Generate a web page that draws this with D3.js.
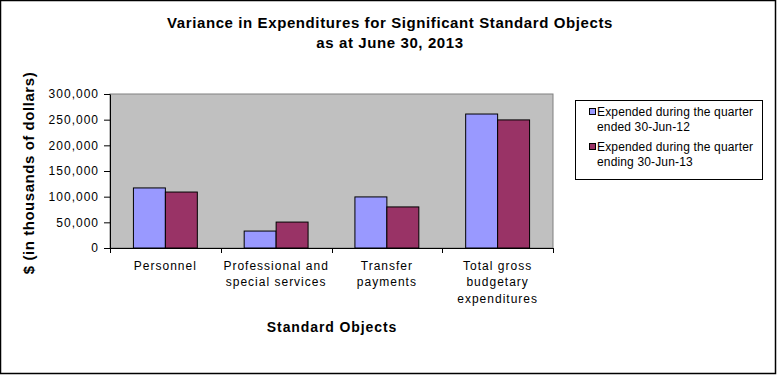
<!DOCTYPE html>
<html>
<head>
<meta charset="utf-8">
<script src="https://cdn.jsdelivr.net/npm/d3@7"></script>
<style>
  body { margin: 0; background: #fff; }
  text { font-family: Arial, "Liberation Sans", sans-serif; }
</style>
</head>
<body>
<div id="chart"></div>
<script>
// data (thousands of dollars)
var categories = ["Personnel", "Professional and special services", "Transfer payments", "Total gross budgetary expenditures"];
var categoryLines = [["Personnel"], ["Professional and", "special services"], ["Transfer", "payments"], ["Total gross", "budgetary", "expenditures"]];
var seriesNames = ["Expended during the quarter ended 30-Jun-12", "Expended during the quarter ending 30-Jun-13"];
var legendLines = [["Expended during the quarter", "ended 30-Jun-12"], ["Expended during the quarter", "ending 30-Jun-13"]];
var values2012 = [117000, 33000, 99500, 261000];
var values2013 = [109000, 50500, 80000, 249500];
var yTicks = [0, 50000, 100000, 150000, 200000, 250000, 300000];
var colors = ["#9999ff", "#993366"];

var W = 777, H = 375;
var plot = { left: 110, right: 553, top: 94, bottom: 248 };

var svg = d3.select("#chart").append("svg")
    .attr("width", W)
    .attr("height", H);

// outer frame
svg.append("rect")
    .attr("x", 0.5).attr("y", 0.5)
    .attr("width", W - 2).attr("height", H - 2)
    .attr("fill", "#fff")
    .attr("stroke", "#000")
    .attr("stroke-width", 1.5);

// title
svg.append("text")
    .attr("x", 390).attr("y", 28)
    .attr("text-anchor", "middle")
    .style("font-size", "15px").style("font-weight", "bold")
    .style("letter-spacing", "0.6px")
    .text("Variance in Expenditures for Significant Standard Objects");
svg.append("text")
    .attr("x", 390).attr("y", 48)
    .attr("text-anchor", "middle")
    .style("font-size", "15px").style("font-weight", "bold")
    .style("letter-spacing", "0.6px")
    .text("as at June 30, 2013");

var x0 = d3.scaleBand()
    .domain(categories)
    .range([plot.left, plot.right])
    .paddingInner(0.423)
    .paddingOuter(0.2115);
var x1 = d3.scaleBand()
    .domain([0, 1])
    .range([0, x0.bandwidth()]);
var y = d3.scaleLinear()
    .domain([0, 300000])
    .range([plot.bottom, plot.top]);

// plot background
svg.append("rect")
    .attr("x", plot.left).attr("y", plot.top)
    .attr("width", plot.right - plot.left)
    .attr("height", plot.bottom - plot.top)
    .attr("fill", "#c0c0c0")
    .attr("stroke", "#808080")
    .attr("stroke-width", 1);

// bars
var rows = categories.map(function (c, i) {
    return { cat: c, vals: [values2012[i], values2013[i]] };
});
var groups = svg.selectAll(".grp")
    .data(rows)
    .enter().append("g")
    .attr("class", "grp")
    .attr("transform", function (d) { return "translate(" + x0(d.cat) + ",0)"; });
groups.selectAll("rect")
    .data(function (d) { return d.vals.map(function (v, k) { return { k: k, v: v }; }); })
    .enter().append("rect")
    .attr("x", function (d) { return x1(d.k); })
    .attr("y", function (d) { return y(d.v); })
    .attr("width", x1.bandwidth())
    .attr("height", function (d) { return plot.bottom - y(d.v); })
    .attr("fill", function (d) { return colors[d.k]; })
    .attr("stroke", "#000")
    .attr("stroke-width", 1);

// y axis
var yAxis = svg.append("g")
    .attr("transform", "translate(" + plot.left + ",0)")
    .call(d3.axisLeft(y).tickValues(yTicks).tickSize(6).tickPadding(5).tickSizeOuter(0)
        .tickFormat(d3.format(",")));
yAxis.select(".domain").attr("stroke", "#000");
yAxis.selectAll("text")
    .style("font-size", "12px")
    .style("letter-spacing", "1px")
    .style("font-family", "Arial, 'Liberation Sans', sans-serif")
    .attr("fill", "#000");

// x axis line and ticks between categories
var xb = d3.scaleLinear().domain([0, categories.length]).range([plot.left, plot.right]);
svg.append("line")
    .attr("x1", plot.left).attr("x2", plot.right)
    .attr("y1", plot.bottom + 0.5).attr("y2", plot.bottom + 0.5)
    .attr("stroke", "#000");
svg.selectAll(".xtick")
    .data(d3.range(categories.length + 1))
    .enter().append("line")
    .attr("class", "xtick")
    .attr("x1", function (d) { return Math.round(xb(d)) + 0.5; })
    .attr("x2", function (d) { return Math.round(xb(d)) + 0.5; })
    .attr("y1", plot.bottom).attr("y2", plot.bottom + 5)
    .attr("stroke", "#000");

// category labels
categories.forEach(function (c, i) {
    var t = svg.append("text")
        .attr("text-anchor", "middle")
        .style("font-size", "12px")
        .style("letter-spacing", "1px");
    categoryLines[i].forEach(function (line, j) {
        t.append("tspan")
            .attr("x", x0(c) + x0.bandwidth() / 2)
            .attr("y", 270 + j * 16.3)
            .text(line);
    });
});

// axis titles
svg.append("text")
    .attr("x", 332).attr("y", 332)
    .attr("text-anchor", "middle")
    .style("font-size", "14px").style("font-weight", "bold")
    .style("letter-spacing", "0.9px")
    .text("Standard Objects");
svg.append("text")
    .attr("transform", "translate(34,173) rotate(-90)")
    .attr("text-anchor", "middle")
    .style("font-size", "15px").style("font-weight", "bold")
    .style("letter-spacing", "0.55px")
    .text("$ (in thousands of dollars)");

// legend
var legend = svg.append("g");
legend.append("rect")
    .attr("x", 575.5).attr("y", 100.5)
    .attr("width", 187).attr("height", 79)
    .attr("fill", "#fff")
    .attr("stroke", "#000");
seriesNames.forEach(function (s, i) {
    var ly = 116 + i * 35;
    legend.append("rect")
        .attr("x", 589.5).attr("y", ly - 7.5)
        .attr("width", 6).attr("height", 6)
        .attr("fill", colors[i])
        .attr("stroke", "#000");
    var t = legend.append("text")
        .style("font-size", "12px")
        .style("letter-spacing", "0.15px");
    legendLines[i].forEach(function (line, j) {
        t.append("tspan")
            .attr("x", 597).attr("y", ly + j * 15)
            .text(line);
    });
});
</script>
</body>
</html>
